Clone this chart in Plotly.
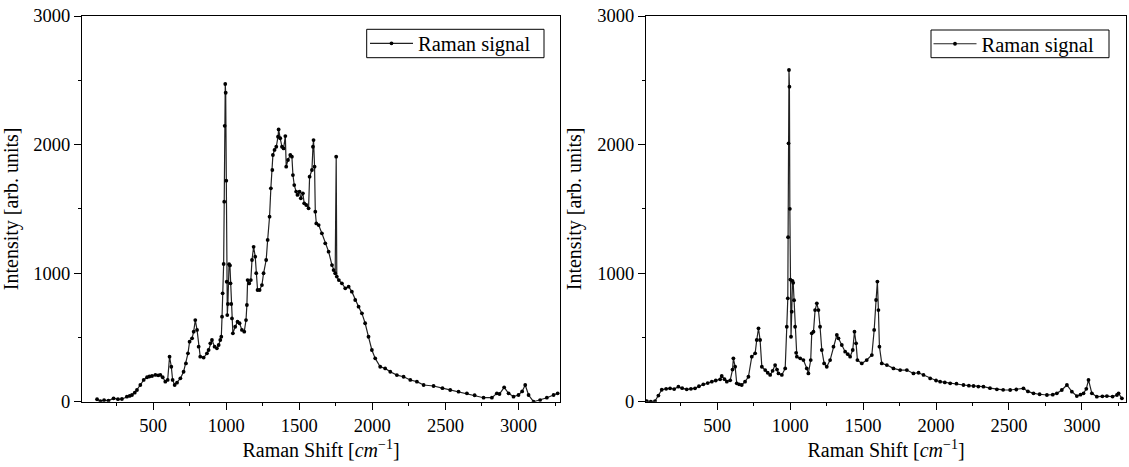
import plotly.graph_objects as go

# ---- Left spectrum ----
left_shift = [117, 140, 165, 195, 230, 260, 287, 321, 340, 356, 375, 390, 413, 436, 459, 475, 493, 516, 535, 550,
              566, 584, 600, 613, 625, 634, 648, 664, 687, 709, 725, 739, 750, 767, 778, 789, 801, 812, 823, 846,
              869, 880, 892, 903, 921, 937, 949, 960, 967, 972, 976, 983, 987, 990, 994, 997, 1001, 1004, 1008, 1012,
              1020, 1026, 1030, 1035, 1040, 1046, 1062, 1078, 1092, 1108, 1124, 1136, 1142, 1147, 1158, 1169, 1177, 1188, 1199, 1206,
              1215, 1229, 1245, 1256, 1274, 1284, 1297, 1306, 1316, 1320, 1331, 1343, 1355, 1359, 1370, 1382, 1393, 1405, 1411, 1423,
              1439, 1450, 1457, 1466, 1479, 1488, 1502, 1511, 1525, 1534, 1548, 1564, 1571, 1587, 1594, 1598, 1605, 1610, 1617, 1633,
              1655, 1678, 1701, 1724, 1735, 1746, 1753, 1757, 1771, 1792, 1815, 1838, 1860, 1883, 1906, 1929, 1951, 1974, 1997, 2020,
              2054, 2088, 2123, 2168, 2214, 2260, 2305, 2351, 2419, 2480, 2533, 2590, 2647, 2700, 2761, 2818, 2852, 2870, 2902, 2932,
              2966, 3000, 3025, 3046, 3069, 3103, 3148, 3194, 3240, 3268]
left_intensity = [19, 5, 12, 8, 26, 20, 21, 39, 45, 52, 70, 91, 130, 169, 190, 196, 200, 208, 205, 208,
                  190, 156, 169, 350, 272, 169, 130, 148, 182, 233, 298, 376, 467, 493, 545, 635, 558, 428, 350, 343,
                  376, 402, 454, 480, 428, 415, 441, 480, 506, 661, 843, 1071, 1556, 2146, 2471, 2403, 1719, 933, 674, 760,
                  1070, 1060, 921, 760, 648, 532, 583, 622, 610, 558, 545, 635, 752, 946, 920, 946, 1102, 1205, 1128, 1000,
                  869, 869, 907, 999, 1102, 1258, 1439, 1660, 1802, 1919, 1958, 1983, 2061, 2118, 2049, 1983, 1970, 2066, 1828, 1880,
                  1919, 1906, 1763, 1685, 1634, 1608, 1634, 1582, 1621, 1543, 1530, 1504, 1750, 1802, 1983, 2035, 1828, 1478, 1387, 1374,
                  1310, 1232, 1167, 1063, 1024, 999, 1906, 973, 946, 921, 882, 895, 856, 791, 739, 687, 610, 505, 402, 337,
                  272, 259, 233, 207, 194, 169, 156, 130, 122, 105, 91, 78, 65, 50, 31, 31, 65, 60, 112, 65,
                  39, 52, 80, 130, 52, 0, 13, 31, 52, 65]

# ---- Right spectrum ----
right_shift = [17, 45, 74, 97, 120, 150, 177, 205, 234, 260, 291, 320, 348, 375, 405, 435, 463, 490, 520, 531,
               550, 566, 589, 605, 611, 623, 634, 650, 668, 691, 714, 737, 760, 771, 783, 794, 806, 829, 846, 863,
               880, 897, 910, 920, 943, 966, 977, 984, 986, 989, 992, 995, 998, 1001, 1006, 1011, 1016, 1021, 1027, 1034,
               1041, 1046, 1069, 1091, 1114, 1125, 1141, 1148, 1160, 1171, 1183, 1194, 1205, 1217, 1233, 1251, 1274, 1297, 1320, 1331,
               1354, 1377, 1395, 1411, 1429, 1441, 1452, 1461, 1491, 1525, 1560, 1576, 1589, 1598, 1605, 1612, 1628, 1663, 1708, 1754,
               1800, 1845, 1880, 1914, 1960, 2000, 2028, 2060, 2097, 2140, 2188, 2225, 2257, 2290, 2325, 2370, 2417, 2460, 2508, 2550,
               2599, 2630, 2668, 2710, 2760, 2800, 2828, 2862, 2897, 2931, 2965, 2990, 3011, 3030, 3045, 3068, 3102, 3140, 3171, 3210,
               3240, 3251, 3274]
right_intensity = [5, 0, 5, 48, 93, 100, 104, 98, 117, 105, 96, 100, 104, 120, 135, 145, 156, 165, 174, 200,
                   175, 156, 166, 250, 337, 272, 143, 135, 130, 156, 194, 350, 376, 480, 571, 480, 272, 246, 225, 208,
                   240, 285, 250, 220, 208, 259, 583, 804, 1280, 2010, 2580, 2450, 1500, 950, 505, 700, 940, 925, 790, 583,
                   380, 350, 337, 324, 259, 220, 324, 532, 545, 713, 765, 713, 583, 402, 298, 272, 324, 428, 519, 493,
                   441, 389, 370, 350, 402, 545, 454, 324, 298, 324, 363, 558, 791, 934, 713, 428, 298, 285, 259, 246,
                   246, 220, 225, 208, 181, 165, 156, 150, 143, 140, 130, 125, 122, 118, 117, 105, 96, 92, 91, 95,
                   104, 80, 65, 58, 52, 55, 65, 91, 130, 78, 44, 55, 65, 100, 169, 65, 39, 42, 44, 40,
                   52, 65, 26]

x_ticks = [500, 1000, 1500, 2000, 2500, 3000]
y_ticks = [0, 1000, 2000, 3000]
legend_name = "Raman signal"
x_title = "Raman Shift [<i>cm</i><sup>−1</sup>]"
y_title = "Intensity [arb. units]"

FONT = "Liberation Serif"
W, H = 1129, 467

fig = go.Figure()
fig.add_trace(go.Scatter(x=left_shift, y=left_intensity, mode="lines+markers", name=legend_name,
                         line=dict(color="#222222", width=1.2), marker=dict(color="black", size=3.8),
                         xaxis="x", yaxis="y", legend="legend", showlegend=True))
fig.add_trace(go.Scatter(x=right_shift, y=right_intensity, mode="lines+markers", name=legend_name,
                         line=dict(color="#222222", width=1.2), marker=dict(color="black", size=3.8),
                         xaxis="x2", yaxis="y2", legend="legend2", showlegend=True))

ydom = [(H - 401.7) / H, (H - 16) / H]
panels = [
    dict(xd=[82 / W, 560 / W], xr=[14, 3284], xa="x", ya="y", xi="", yi="", xo="3", yo="3"),
    dict(xd=[646 / W, 1126 / W], xr=[12, 3302], xa="x2", ya="y2", xi="2", yi="2", xo="4", yo="4"),
]
lay = {}
for p in panels:
    tickfont = dict(family=FONT, size=18.5, color="black")
    lay["xaxis" + p["xi"]] = dict(domain=p["xd"], range=p["xr"], anchor=p["ya"], showgrid=False, zeroline=False,
                                  showline=True, linecolor="black", linewidth=1, mirror=True, automargin=False,
                                  tickmode="array", tickvals=x_ticks, ticks="outside", ticklen=7, tickcolor="black",
                                  minor=dict(tickmode="linear", tick0=0, dtick=250, ticks="outside", ticklen=3.5,
                                             tickcolor="black", showgrid=False),
                                  tickfont=tickfont,
                                  title=dict(text=x_title, font=dict(family=FONT, size=20, color="black"), standoff=8))
    lay["yaxis" + p["yi"]] = dict(domain=ydom, range=[0, 3000], anchor=p["xa"], showgrid=False, zeroline=False,
                                  showline=True, linecolor="black", linewidth=1, mirror=True, automargin=False,
                                  tickmode="array", tickvals=y_ticks, ticks="outside", ticklen=7, tickcolor="black",
                                  minor=dict(tickmode="linear", tick0=0, dtick=500, ticks="outside", ticklen=3.5,
                                             tickcolor="black", showgrid=False),
                                  tickfont=tickfont,
                                  title=dict(text=y_title, font=dict(family=FONT, size=20, color="black"), standoff=10))
    # inward ticks on top and right
    lay["xaxis" + p["xo"]] = dict(overlaying=p["xa"], matches=p["xa"], range=p["xr"], side="top", anchor=p["ya"],
                                  showgrid=False, zeroline=False, showline=False, showticklabels=False, automargin=False,
                                  tickmode="array", tickvals=x_ticks, ticks="inside", ticklen=7, tickcolor="black",
                                  minor=dict(tickmode="linear", tick0=0, dtick=250, ticks="inside", ticklen=3.5,
                                             tickcolor="black", showgrid=False))
    lay["yaxis" + p["yo"]] = dict(overlaying=p["ya"], matches=p["ya"], range=[0, 3000], side="right", anchor=p["xa"],
                                  showgrid=False, zeroline=False, showline=False, showticklabels=False, automargin=False,
                                  tickmode="array", tickvals=y_ticks, ticks="inside", ticklen=7, tickcolor="black",
                                  minor=dict(tickmode="linear", tick0=0, dtick=500, ticks="inside", ticklen=3.5,
                                             tickcolor="black", showgrid=False))

# legend frames (pixel boxes converted to paper fractions)
legend_boxes = [(366.7, 544.0, 29.3, 57.7), (931.0, 1109.0, 30.0, 57.7)]
shapes = []
for (x0, x1, y0, y1) in legend_boxes:
    shapes.append(dict(type="rect", xref="paper", yref="paper", x0=x0 / W, x1=x1 / W,
                       y0=1 - y1 / H, y1=1 - y0 / H, line=dict(color="black", width=1),
                       fillcolor="rgba(0,0,0,0)", layer="above"))

legend_style = dict(xanchor="left", yanchor="middle", bgcolor="rgba(0,0,0,0)", borderwidth=0, itemwidth=43,
                    font=dict(family=FONT, size=20.5, color="black"))
fig.update_layout(
    width=W, height=H, margin=dict(l=0, r=0, t=0, b=0, autoexpand=False),
    paper_bgcolor="white", plot_bgcolor="white", showlegend=True,
    legend=dict(x=365 / W, y=1 - 43.5 / H, **legend_style),
    legend2=dict(x=928.5 / W, y=1 - 43.9 / H, **legend_style),
    shapes=shapes,
    **lay,
)
fig.write_html("out.html")
